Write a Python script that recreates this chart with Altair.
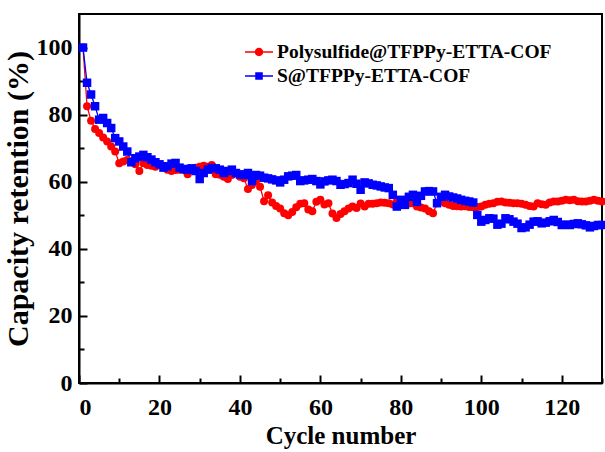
import altair as alt
import pandas as pd

cycles = list(range(1, 131))

polysulfide = [
    100, 82.5, 78.2, 75.7, 74.5, 73.2, 72, 70.5, 69, 65.5,
    66, 66.5, 66, 65.2, 63.2, 65.5, 65, 64.8, 64.5, 65,
    64.8, 63.6, 63.2, 63.5, 63.6, 63.5, 62.2, 63.8, 64.2, 64.5,
    64.8, 64.5, 65, 62.2, 62.1, 61.5, 60.8, 62, 62.6, 61.5,
    61, 57.8, 59, 60.2, 58.5, 54.2, 56, 53.8, 52.8, 52,
    50.6, 50, 51, 52.4, 53.4, 53.6, 51.7, 51.2, 54, 54.6,
    53.2, 53.6, 50.5, 49.2, 50.4, 51.2, 52, 52.6, 52.2, 53.5,
    52.6, 53.4, 53.4, 53.6, 53.8, 53.7, 53.6, 53.2, 54, 53.6,
    53.1, 53.5, 53.6, 52.6, 52.3, 52, 51.2, 50.6, 53.6, 54.1,
    53.6, 53.1, 52.8, 52.7, 52.6, 52.7, 52.5, 52.4, 52.5, 52.6,
    53.1, 53.4, 53.6, 54, 54.1, 53.8, 53.7, 53.6, 53.6, 53.4,
    53.1, 52.8, 52.6, 53.6, 53.3, 53.1, 53.8, 54.1, 54.1, 54.3,
    54.6, 54.5, 54.6, 54.2, 54.1, 54.1, 54.3, 54.6, 54.3, 54.1,
]

sulfur = [
    100, 89.5, 86, 82.5, 78.5, 79, 77.5, 76, 73, 72,
    70.5, 69, 65.8, 67, 67.5, 68, 67.3, 66.6, 65.8, 65.2,
    64.2, 64.6, 65.4, 65.6, 64.2, 63.8, 63.6, 64, 63.2, 60.8,
    62.6, 63.6, 64.1, 64, 63.6, 62.6, 63.2, 63.6, 62.6, 62.2,
    62, 62.6, 60.2, 62, 61.8, 61.2, 61, 60.7, 60.4, 59.8,
    60.6, 61.6, 61.8, 62, 60.2, 60.4, 60.6, 60.8, 60.2, 59.2,
    60.1, 60.4, 60.6, 60.2, 59.1, 59.3, 59.6, 60.6, 59.4, 57.6,
    59.8, 59.5, 59.1, 58.9, 58.6, 58.3, 58.1, 56.1, 52.6, 54.6,
    53.1, 55.5, 56.1, 54, 55.8, 57.1, 57.2, 57.1, 53.6, 55.5,
    56.1, 55.6, 55.3, 55, 54.6, 54.3, 54.1, 53.8, 50.1, 48.1,
    48.6, 49.1, 49, 47.2, 47.5, 49.1, 48.8, 48.1, 47.5, 46.2,
    46.4, 47.2, 48.1, 48.2, 47.6, 47.8, 48.2, 48.6, 48, 47.1,
    47.2, 47.1, 47.4, 47.6, 47.3, 47, 46.4, 46.8, 47.1, 47.1,
]

series_names = ["Polysulfide@TFPPy-ETTA-COF", "S@TFPPy-ETTA-COF"]
series_colors = ["#FF0000", "#0000FF"]
x_major = [0, 20, 40, 60, 80, 100, 120]
x_minor = [10, 30, 50, 70, 90, 110, 130]
y_major = [0, 20, 40, 60, 80, 100]
y_minor = [10, 30, 50, 70, 90]

df = pd.DataFrame({
    "cycle": cycles + cycles,
    "value": polysulfide + sulfur,
    "series": [series_names[0]] * len(cycles) + [series_names[1]] * len(cycles),
})

FONT = "Liberation Serif"
xs = alt.Scale(domain=[0, 130], nice=False, zero=False)
ys = alt.Scale(domain=[0, 110], nice=False, zero=False)

base = alt.Chart(df)

lines = base.mark_line(strokeWidth=1.3).encode(
    x=alt.X("cycle:Q", scale=xs, axis=alt.Axis(
        orient="bottom", values=x_major, ticks=False, grid=False, format="d",
        title="Cycle number", labelPadding=12, titlePadding=4,
        domainWidth=2, domainColor="black",
        labelFont=FONT, labelFontSize=24, labelFontWeight="bold", labelColor="black",
        titleFont=FONT, titleFontSize=25, titleFontWeight="bold", titleColor="black")),
    y=alt.Y("value:Q", scale=ys, axis=alt.Axis(
        orient="left", values=y_major, ticks=False, grid=False, format="d",
        title="Capacity retention (%)", labelPadding=7, titlePadding=3,
        domainWidth=2, domainColor="black",
        labelFont=FONT, labelFontSize=24, labelFontWeight="bold", labelColor="black",
        titleFont=FONT, titleFontSize=30, titleFontWeight="bold", titleColor="black")),
    stroke=alt.Stroke("series:N", scale=alt.Scale(domain=series_names, range=series_colors), legend=None),
    detail="series:N",
)

points = base.mark_point(filled=True, opacity=1).encode(
    x=alt.X("cycle:Q", scale=xs, axis=alt.Axis(
        orient="bottom", values=x_major, labels=False, domain=False, grid=False,
        ticks=True, tickSize=8, tickWidth=2, tickColor="black", offset=-8, title=None)),
    y=alt.Y("value:Q", scale=ys, axis=alt.Axis(
        orient="left", values=y_major, labels=False, domain=False, grid=False,
        ticks=True, tickSize=8, tickWidth=2, tickColor="black", offset=-8, title=None)),
    color=alt.Color("series:N", scale=alt.Scale(domain=series_names, range=series_colors), legend=None),
    shape=alt.Shape("series:N", scale=alt.Scale(domain=series_names, range=["circle", "square"]), legend=None),
    size=alt.Size("series:N", scale=alt.Scale(domain=series_names, range=[64, 72]), legend=None),
)

minor = base.mark_point(opacity=0).encode(
    x=alt.X("cycle:Q", scale=xs, axis=alt.Axis(
        orient="bottom", values=x_minor, labels=False, domain=False, grid=False,
        ticks=True, tickSize=5, tickWidth=2, tickColor="black", offset=-5, title=None)),
    y=alt.Y("value:Q", scale=ys, axis=alt.Axis(
        orient="left", values=y_minor, labels=False, domain=False, grid=False,
        ticks=True, tickSize=5, tickWidth=2, tickColor="black", offset=-5, title=None)),
)

# legend symbols: a short line with the marker on it
circ = "M-1,-0.05L1,-0.05L1,0.05L-1,0.05Z M0.3,0A0.3,0.3,0,1,1,-0.3,0A0.3,0.3,0,1,1,0.3,0Z"
sq = "M-1,-0.05L1,-0.05L1,0.05L-1,0.05Z M-0.27,-0.27L0.27,-0.27L0.27,0.27L-0.27,0.27Z"

leg = alt.Legend(
    title=None, orient="none", legendX=166, legendY=24,
    labelFont=FONT, labelFontSize=19.5, labelFontWeight="bold", labelColor="black",
    labelLimit=600, symbolSize=784, rowPadding=0, labelOffset=4, padding=0,
    symbolOpacity=1, symbolStrokeWidth=0,
)

legend_layer = base.transform_filter("datum.cycle < 0").mark_point(filled=True).encode(
    x=alt.X("cycle:Q", scale=xs, axis=None),
    y=alt.Y("value:Q", scale=ys, axis=None),
    color=alt.Color("series:N", scale=alt.Scale(domain=series_names, range=series_colors), legend=leg),
    shape=alt.Shape("series:N", scale=alt.Scale(domain=series_names, range=[circ, sq]), legend=leg),
)

chart = alt.layer(lines, points, minor, legend_layer).resolve_axis(
    x="independent", y="independent"
).resolve_scale(
    color="independent", shape="independent"
).properties(
    width=523, height=369,
    padding={"left": 79, "top": 14, "right": 3, "bottom": 69},
    autosize=alt.AutoSizeParams(type="none"),
    background="white",
).configure_view(stroke="black", strokeWidth=2)

chart.save("out.html", embed_options={"renderer": "svg", "actions": False})
